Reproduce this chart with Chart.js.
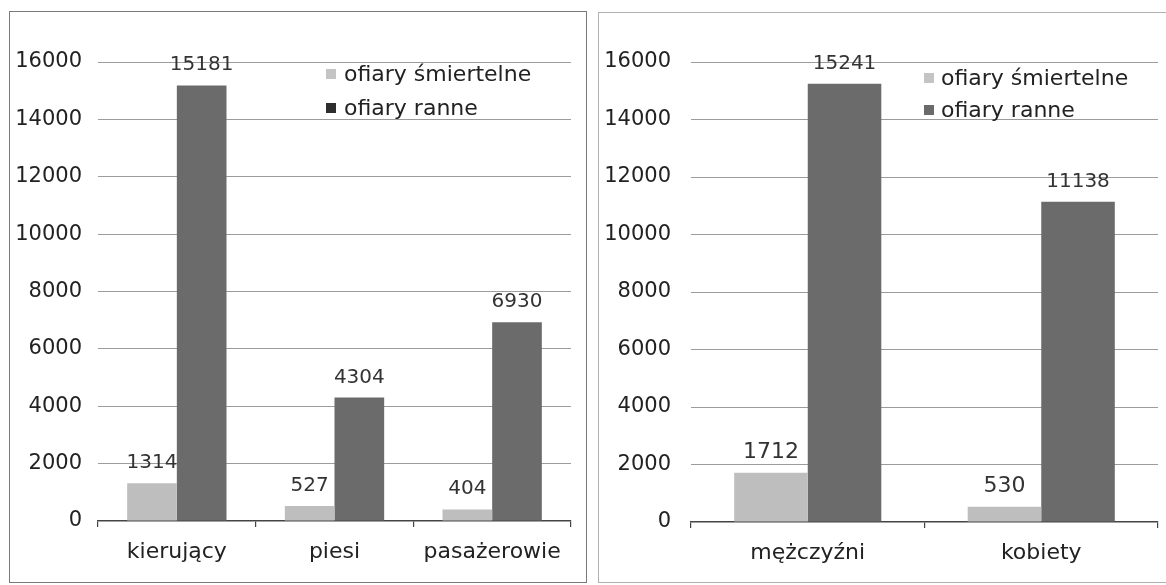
<!DOCTYPE html>
<html><head><meta charset="utf-8">
<script src="https://cdn.jsdelivr.net/npm/chart.js@4/dist/chart.umd.min.js"></script>
<style>
html,body{margin:0;padding:0;background:#fff;width:1166px;height:585px;overflow:hidden;}
.panel{position:absolute;box-sizing:border-box;}
#p1{left:9px;top:11px;width:578px;height:572px;border:1.5px solid #7a7a7a;}
#p2{left:598px;top:12px;width:590px;height:571px;border:1px solid #b0b0b0;}
canvas{position:absolute;}
</style></head>
<body>
<div class="panel" id="p1"></div>
<div class="panel" id="p2"></div>
<canvas id="c1" style="left:10px;top:13px;width:574px;height:568px" width="574" height="568"></canvas>
<canvas id="c2" style="left:599px;top:13px;width:567px;height:568px" width="567" height="568"></canvas>
<script>
// ---- data ----
const seriesLabels = ['ofiary śmiertelne', 'ofiary ranne'];
const categoriesLeft = ['kierujący', 'piesi', 'pasażerowie'];
const fatalLeft = [1314, 527, 404];
const injuredLeft = [15181, 4304, 6930];
const categoriesRight = ['mężczyźni', 'kobiety'];
const fatalRight = [1712, 530];
const injuredRight = [15241, 11138];
const yMin = 0, yMax = 16000, yStep = 2000;

// ---- styling ----
const FONT = '"DejaVu Sans", Verdana, sans-serif';
const LIGHT = '#bebebe';
const DARK = '#6b6b6b';
const TEXT = '#222';

const valueLabels = {
  id: 'valueLabels',
  afterDatasetsDraw(chart) {
    const ctx = chart.ctx;
    chart.data.datasets.forEach((ds, i) => {
      const meta = chart.getDatasetMeta(i);
      meta.data.forEach((bar, j) => {
        ctx.save();
        ctx.font = ds.labelFont + 'px ' + FONT;
        ctx.fillStyle = '#333';
        ctx.textAlign = 'center';
        ctx.textBaseline = 'alphabetic';
        ctx.fillText(String(ds.data[j]), bar.x, bar.y - 15);
        ctx.restore();
      });
    });
  }
};

const boxLegend = {
  id: 'boxLegend',
  afterDraw(chart, args, o) {
    const ctx = chart.ctx;
    chart.data.datasets.forEach((ds, i) => {
      const y = o.rows[i];
      ctx.save();
      ctx.fillStyle = o.boxColors[i];
      ctx.fillRect(o.boxX, y - 5, 10, 10);
      ctx.font = o.fontSize + 'px ' + FONT;
      ctx.fillStyle = TEXT;
      ctx.textAlign = 'left';
      ctx.textBaseline = 'middle';
      ctx.fillText(ds.label, o.textX, y + 1);
      ctx.restore();
    });
  }
};

function makeChart(id, cats, fatal, injured, cfg) {
  return new Chart(document.getElementById(id), {
    type: 'bar',
    data: {
      labels: cats,
      datasets: [
        { label: seriesLabels[0], data: fatal, backgroundColor: LIGHT, labelFont: cfg.fatalFont },
        { label: seriesLabels[1], data: injured, backgroundColor: DARK, labelFont: cfg.injuredFont }
      ]
    },
    options: {
      responsive: false,
      animation: false,
      devicePixelRatio: 1,
      categoryPercentage: 0.63,
      barPercentage: 1.0,
      layout: { padding: { left: 0, top: 49, right: cfg.right, bottom: 0 } },
      plugins: {
        legend: { display: false },
        tooltip: { enabled: false },
        boxLegend: { boxX: cfg.boxX, textX: cfg.textX, rows: cfg.rows, boxColors: cfg.boxColors, fontSize: 22 }
      },
      scales: {
        x: {
          grid: { drawOnChartArea: false, drawTicks: true, tickLength: 6, color: '#444', lineWidth: 1.2 },
          border: { display: true, color: '#444', width: 1.5 },
          ticks: { font: { family: FONT, size: 22 }, color: TEXT, padding: 12 },
          afterFit(s) { s.height = cfg.xHeight; }
        },
        y: {
          min: yMin, max: yMax,
          grid: { drawTicks: false, color: (c) => c.tick && c.tick.value === 0 ? 'rgba(0,0,0,0)' : '#9c9c9c', lineWidth: 1 },
          border: { display: false },
          ticks: { stepSize: yStep, font: { family: FONT, size: 21 }, color: TEXT, padding: cfg.yPad,
                   callback: (v) => String(v) },
          afterFit(s) { s.width = cfg.yWidth; }
        }
      }
    },
    plugins: [valueLabels, boxLegend]
  });
}

makeChart('c1', categoriesLeft, fatalLeft, injuredLeft, {
  yWidth: 88, yPad: 16, right: 13, xHeight: 60,
  boxX: 316, textX: 334, rows: [61, 95], boxColors: ['#c4c4c4', '#2e2e2e'],
  fatalFont: 20, injuredFont: 20
});
makeChart('c2', categoriesRight, fatalRight, injuredRight, {
  yWidth: 92, yPad: 20, right: 8, xHeight: 59,
  boxX: 325, textX: 342, rows: [65, 97], boxColors: ['#c4c4c4', '#6a6a6a'],
  fatalFont: 22, injuredFont: 20
});
</script>
</body></html>
